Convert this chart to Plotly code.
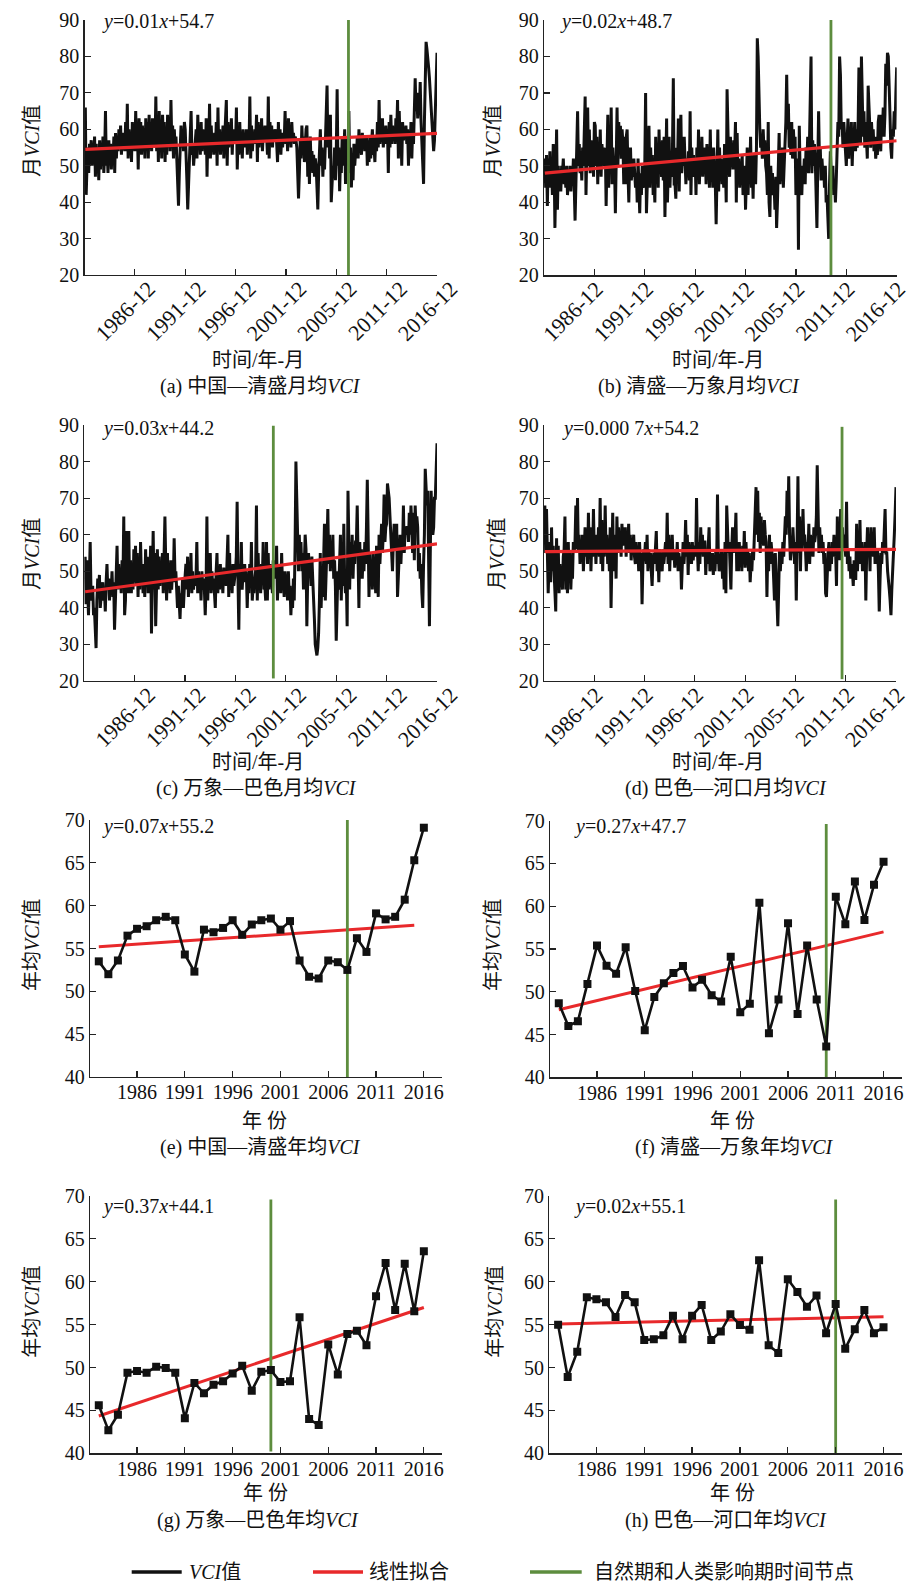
import plotly.graph_objects as go

W, H = 912, 1582
FONT = "Liberation Serif, Times New Roman, Noto Sans CJK SC, serif"
BLACK = "#111111"
RED = "#e8292b"
GREEN = "#5d8d3e"

# ---------------- data ----------------
month_tick_vals = [60, 120, 180, 240, 300, 360, 420]
month_tick_text = ["1986-12", "1991-12", "1996-12", "2001-12", "2005-12", "2011-12", "2016-12"]
year_tick_vals = [1986, 1991, 1996, 2001, 2006, 2011, 2016]
years = list(range(1982, 2017))

# monthly VCI, 1982-01 .. 2016-12 (12 values per line = one year)
vci_month_a = [
    66, 42, 50, 55, 48, 56, 53, 57, 50, 55, 52, 58,
    47, 56, 50, 53, 46, 57, 49, 55, 52, 58, 48, 53,
    65, 50, 54, 48, 57, 51, 56, 49, 55, 52, 58, 48,
    59, 52, 58, 54, 60, 55, 61, 53, 59, 56, 57, 54,
    62, 54, 67, 52, 60, 56, 58, 51, 62, 55, 57, 54,
    65, 56, 60, 49, 63, 55, 62, 53, 61, 56, 59, 52,
    63, 55, 62, 52, 64, 56, 60, 54, 63, 57, 59, 55,
    69, 54, 63, 51, 65, 56, 60, 52, 64, 57, 62, 51,
    60, 53, 64, 55, 62, 54, 68, 56, 61, 52, 60, 55,
    58, 52, 46, 39, 48, 57, 61, 55, 60, 54, 62, 60,
    55, 46, 38, 44, 52, 59, 65, 53, 56, 50, 54, 56,
    60, 52, 64, 55, 59, 53, 62, 54, 60, 56, 58, 53,
    63, 47, 60, 55, 67, 52, 61, 54, 58, 53, 59, 54,
    62, 50, 66, 54, 60, 53, 59, 55, 61, 52, 58, 59,
    68, 50, 62, 55, 61, 56, 63, 53, 60, 57, 59, 56,
    66, 49, 58, 53, 62, 54, 57, 52, 60, 55, 58, 55,
    60, 53, 59, 55, 69, 52, 61, 54, 58, 56, 60, 57,
    64, 51, 62, 55, 60, 56, 63, 54, 59, 57, 61, 58,
    58, 53, 69, 52, 62, 56, 61, 55, 60, 57, 59, 60,
    56, 51, 62, 54, 60, 53, 59, 55, 58, 57, 65, 56,
    60, 54, 63, 56, 61, 55, 62, 57, 59, 56, 58, 57,
    55, 50, 41, 48, 57, 52, 61, 54, 58, 51, 56, 60,
    61, 47, 55, 45, 58, 50, 54, 48, 53, 47, 52, 50,
    44, 38, 48, 56, 60, 50, 55, 47, 53, 49, 58, 60,
    72, 55, 62, 52, 64, 40, 45, 50, 48, 55, 46, 54,
    71, 50, 55, 43, 52, 48, 58, 50, 54, 60, 45, 55,
    58, 50, 65, 48, 55, 44, 52, 46, 56, 50, 54, 52,
    58, 52, 60, 54, 57, 53, 59, 55, 58, 54, 56, 58,
    50, 57, 51, 58, 52, 56, 60, 53, 55, 51, 58, 54,
    62, 55, 68, 56, 60, 57, 63, 55, 59, 56, 61, 57,
    60, 48, 62, 55, 64, 56, 61, 57, 60, 56, 63, 59,
    68, 52, 65, 56, 60, 50, 62, 57, 59, 58, 61, 56,
    60, 50, 58, 55, 62, 52, 60, 56, 64, 74, 65, 70,
    63, 68, 65, 73, 62, 55, 50, 45, 62, 76, 84, 82,
    80, 77, 74, 70, 66, 62, 58, 54, 57, 66, 74, 81,
]

vci_month_b = [
    52, 44, 53, 39, 52, 46, 54, 44, 50, 42, 56, 52,
    33, 45, 60, 38, 50, 44, 49, 43, 50, 48, 52, 45,
    48, 44, 50, 42, 47, 45, 50, 43, 48, 46, 52, 44,
    35, 45, 52, 65, 50, 56, 48, 52, 46, 55, 50, 58,
    69, 42, 58, 66, 50, 60, 48, 57, 50, 55, 47, 62,
    61, 50, 58, 45, 55, 48, 60, 47, 56, 52, 55, 50,
    55, 39, 52, 64, 44, 58, 48, 66, 45, 55, 50, 50,
    37, 60, 66, 50, 62, 55, 61, 52, 60, 56, 45, 58,
    45, 58, 60, 48, 40, 52, 55, 46, 50, 47, 52, 48,
    44, 48, 40, 52, 45, 37, 48, 42, 50, 44, 46, 50,
    70, 37, 45, 52, 61, 44, 55, 48, 53, 42, 46, 40,
    58, 48, 55, 44, 60, 50, 53, 47, 57, 46, 58, 36,
    48, 63, 40, 55, 58, 44, 52, 47, 55, 74, 45, 45,
    41, 55, 50, 63, 43, 58, 64, 48, 55, 50, 58, 51,
    45, 52, 47, 54, 46, 65, 42, 55, 48, 53, 47, 52,
    42, 55, 48, 60, 45, 52, 50, 58, 47, 55, 50, 55,
    45, 56, 48, 52, 44, 60, 46, 50, 44, 55, 50, 45,
    34, 50, 60, 43, 55, 47, 52, 45, 50, 44, 56, 50,
    40, 71, 55, 50, 47, 58, 52, 55, 49, 57, 53, 62,
    40, 59, 45, 52, 44, 50, 47, 53, 42, 48, 50, 38,
    50, 55, 42, 52, 47, 58, 44, 50, 41, 53, 48, 45,
    55, 85, 80, 62, 60, 55, 58, 52, 60, 54, 57, 50,
    48, 42, 62, 40, 36, 50, 44, 48, 42, 45, 38, 47,
    33, 40, 52, 59, 45, 50, 47, 55, 44, 50, 52, 62,
    75, 60, 67, 55, 58, 53, 62, 52, 60, 55, 58, 42,
    45, 52, 27, 61, 48, 45, 42, 50, 47, 52, 45, 55,
    50, 58, 48, 55, 72, 80, 48, 57, 50, 56, 52, 38,
    33, 50, 65, 52, 55, 46, 52, 48, 50, 44, 50, 40,
    42, 36, 30, 45, 54, 48, 44, 50, 42, 46, 40, 46,
    55, 62, 58, 80, 75, 60, 62, 55, 62, 58, 57, 50,
    57, 63, 52, 60, 55, 62, 50, 58, 56, 62, 54, 60,
    55, 60, 77, 62, 56, 80, 70, 58, 65, 55, 62, 56,
    52, 72, 66, 60, 55, 62, 57, 60, 54, 58, 52, 55,
    53, 62, 64, 58, 54, 64, 60, 66, 58, 64, 78, 72,
    81, 80, 74, 64, 55, 52, 60, 58, 65, 60, 70, 77,
]

vci_month_c = [
    54, 41, 53, 45, 38, 48, 58, 44, 42, 46, 38, 40,
    35, 29, 42, 48, 44, 49, 40, 45, 46, 47, 42, 45,
    39, 47, 52, 45, 48, 42, 47, 44, 50, 43, 47, 34,
    44, 50, 57, 45, 52, 46, 48, 44, 53, 47, 65, 38,
    42, 61, 44, 48, 61, 44, 53, 44, 50, 45, 56, 47,
    57, 46, 55, 43, 52, 45, 58, 48, 50, 44, 52, 43,
    56, 46, 54, 44, 52, 48, 57, 33, 50, 61, 45, 55,
    35, 48, 56, 45, 54, 46, 52, 47, 55, 44, 53, 65,
    52, 42, 55, 46, 51, 44, 53, 45, 50, 47, 59, 49,
    50, 44, 40, 46, 42, 37, 44, 42, 48, 40, 45, 50,
    52, 45, 54, 43, 50, 46, 55, 44, 50, 45, 48, 46,
    48, 58, 44, 50, 45, 48, 42, 50, 46, 48, 45, 38,
    46, 65, 42, 52, 46, 55, 44, 50, 45, 48, 43, 40,
    50, 55, 44, 50, 45, 52, 46, 48, 44, 51, 47, 49,
    46, 52, 60, 43, 55, 45, 50, 44, 52, 46, 48, 50,
    54, 69, 48, 34, 52, 46, 58, 45, 50, 47, 52, 47,
    50, 40, 48, 44, 52, 46, 58, 42, 46, 44, 48, 50,
    68, 42, 55, 46, 50, 44, 52, 47, 58, 45, 46, 42,
    58, 42, 55, 45, 52, 47, 50, 44, 53, 48, 51, 50,
    57, 42, 50, 45, 52, 44, 55, 46, 49, 43, 50, 47,
    48, 42, 50, 44, 46, 38, 44, 40, 48, 42, 57, 80,
    70, 62, 50, 60, 52, 58, 50, 55, 45, 52, 60, 56,
    35, 48, 55, 50, 52, 46, 54, 48, 44, 37, 30, 28,
    27, 29, 33, 42, 55, 40, 48, 43, 50, 63, 42, 48,
    57, 67, 52, 60, 50, 57, 52, 60, 48, 53, 46, 31,
    38, 50, 45, 52, 60, 42, 55, 46, 63, 48, 44, 48,
    35, 72, 55, 45, 58, 50, 60, 48, 56, 52, 58, 58,
    68, 55, 40, 58, 50, 56, 48, 55, 50, 58, 52, 62,
    75, 60, 43, 55, 47, 52, 45, 55, 48, 50, 44, 57,
    55, 43, 60, 52, 58, 63, 55, 60, 71, 58, 62, 63,
    74, 72, 70, 65, 60, 55, 50, 58, 63, 56, 60, 63,
    43, 50, 55, 60, 52, 58, 56, 68, 55, 62, 60, 62,
    62, 58, 66, 60, 68, 62, 55, 66, 53, 68, 62, 65,
    62, 50, 55, 48, 52, 44, 40, 52, 60, 78, 70, 68,
    72, 50, 35, 55, 72, 65, 60, 62, 70, 70, 76, 85,
]

vci_month_d = [
    68, 55, 67, 50, 44, 52, 58, 47, 62, 50, 57, 50,
    40, 39, 59, 45, 57, 44, 52, 46, 50, 45, 54, 56,
    65, 45, 50, 44, 58, 47, 55, 45, 52, 48, 58, 55,
    58, 68, 56, 70, 55, 60, 52, 58, 54, 60, 50, 57,
    62, 54, 60, 52, 66, 55, 62, 50, 58, 54, 67, 55,
    58, 52, 60, 55, 62, 54, 70, 52, 64, 50, 60, 54,
    68, 55, 60, 52, 58, 50, 62, 40, 52, 66, 50, 58,
    60, 48, 65, 55, 62, 56, 60, 54, 63, 57, 62, 59,
    62, 54, 60, 56, 63, 55, 60, 53, 58, 56, 60, 54,
    52, 58, 54, 56, 50, 58, 53, 55, 41, 52, 56, 54,
    58, 52, 60, 50, 56, 52, 55, 50, 46, 53, 55, 52,
    56, 61, 50, 55, 47, 56, 52, 54, 50, 56, 52, 56,
    58, 54, 66, 52, 60, 50, 58, 55, 60, 53, 56, 51,
    56, 52, 58, 50, 55, 52, 54, 45, 52, 58, 52, 56,
    64, 54, 60, 49, 58, 55, 57, 52, 58, 53, 56, 57,
    54, 70, 56, 50, 58, 52, 62, 55, 60, 54, 58, 58,
    49, 55, 52, 58, 62, 50, 54, 52, 55, 49, 53, 50,
    56, 52, 71, 55, 50, 54, 52, 56, 48, 53, 45, 58,
    44, 68, 60, 55, 58, 52, 45, 56, 62, 55, 60, 59,
    66, 50, 56, 50, 58, 52, 55, 50, 57, 53, 61, 51,
    58, 52, 56, 50, 55, 47, 52, 50, 56, 53, 61, 63,
    73, 60, 72, 58, 66, 55, 65, 58, 62, 57, 64, 60,
    58, 43, 56, 50, 60, 52, 58, 55, 54, 48, 42, 55,
    48, 40, 35, 45, 56, 50, 55, 52, 58, 54, 62, 65,
    60, 72, 62, 76, 60, 53, 56, 55, 62, 58, 52, 58,
    42, 58, 76, 55, 65, 50, 62, 56, 67, 58, 60, 56,
    50, 58, 55, 63, 52, 60, 55, 58, 54, 62, 58, 60,
    65, 79, 60, 55, 62, 56, 60, 55, 58, 52, 55, 44,
    43, 52, 55, 58, 50, 56, 52, 58, 55, 60, 54, 55,
    46, 65, 56, 60, 53, 67, 55, 62, 56, 60, 55, 54,
    69, 52, 56, 50, 54, 48, 52, 50, 46, 53, 48, 48,
    63, 50, 56, 52, 64, 52, 58, 50, 56, 52, 58, 42,
    55, 62, 54, 58, 50, 62, 56, 60, 54, 62, 52, 55,
    52, 56, 50, 39, 48, 55, 52, 58, 55, 62, 67, 55,
    55, 50, 48, 45, 42, 38, 45, 52, 58, 60, 66, 73,
]

# annual VCI, 1982 .. 2016
vci_year_e = [53.5, 52.0, 53.6, 56.5, 57.3, 57.6, 58.3, 58.7, 58.3, 54.3,
              52.3, 57.2, 56.9, 57.4, 58.3, 56.6, 57.8, 58.3, 58.5, 57.2,
              58.2, 53.6, 51.7, 51.5, 53.6, 53.4, 52.5, 56.2, 54.6, 59.1,
              58.4, 58.7, 60.7, 65.3, 69.1]
vci_year_f = [48.65, 46.0, 46.55, 50.9, 55.4, 53.05, 52.1, 55.2, 50.1, 45.5,
              49.4, 51.0, 52.2, 53.0, 50.5, 51.4, 49.6, 48.85, 54.1, 47.6,
              48.6, 60.4, 45.15, 49.1, 58.0, 47.4, 55.4, 49.1, 43.6, 61.1,
              57.9, 62.9, 58.4, 62.5, 65.2]
vci_year_g = [45.6, 42.7, 44.5, 49.4, 49.6, 49.4, 50.1, 49.95, 49.4, 44.1,
              48.2, 47.0, 48.0, 48.4, 49.3, 50.2, 47.3, 49.5, 49.7, 48.3,
              48.4, 55.85, 44.0, 43.3, 52.7, 49.2, 53.9, 54.3, 52.6, 58.3,
              62.2, 56.7, 62.1, 56.55, 63.55]
vci_year_h = [55.0, 48.9, 51.85, 58.2, 57.95, 57.6, 55.9, 58.45, 57.6, 53.2,
              53.3, 53.75, 56.05, 53.3, 56.05, 57.3, 53.2, 54.2, 56.2, 54.95,
              54.4, 62.5, 52.6, 51.7, 60.3, 58.8, 57.1, 58.4, 54.0, 57.4,
              52.2, 54.45, 56.7, 54.0, 54.7]

# linear-fit end points (as drawn) and break points (green line)
trend_month_start = [54.5, 48.0, 44.4, 55.4]
trend_month_end = [58.9, 56.9, 57.5, 56.0]
trend_year_x = [[1982, 2015], [1982, 2016], [1982, 2016], [1982, 2016]]
trend_year_start = [55.2, 47.9, 44.35, 55.08]
trend_year_end = [57.7, 57.0, 57.0, 55.93]
break_month = [314.5, 341.7, 225.1, 355.6]
break_year = [2008, 2010, 2000, 2011]

equations = ["<i>y</i>=0.01<i>x</i>+54.7", "<i>y</i>=0.02<i>x</i>+48.7",
             "<i>y</i>=0.03<i>x</i>+44.2", "<i>y</i>=0.000 7<i>x</i>+54.2",
             "<i>y</i>=0.07<i>x</i>+55.2", "<i>y</i>=0.27<i>x</i>+47.7",
             "<i>y</i>=0.37<i>x</i>+44.1", "<i>y</i>=0.02<i>x</i>+55.1"]
captions = ["(a) 中国—清盛月均<i>VCI</i>", "(b) 清盛—万象月均<i>VCI</i>",
            "(c) 万象—巴色月均<i>VCI</i>", "(d) 巴色—河口月均<i>VCI</i>",
            "(e) 中国—清盛年均<i>VCI</i>", "(f) 清盛—万象年均<i>VCI</i>",
            "(g) 万象—巴色年均<i>VCI</i>", "(h) 巴色—河口年均<i>VCI</i>"]
legend_names = ["<i>VCI</i>值", "线性拟合", "自然期和人类影响期时间节点"]

# ---------------- layout geometry (pixels) ----------------
# plot box: left, right, top, bottom
boxes = [
    (84.5, 437.0, 20.0, 275.0), (544.0, 896.7, 20.0, 275.3),
    (84.3, 437.0, 425.0, 681.0), (544.0, 896.0, 425.0, 681.0),
    (90.0, 442.0, 820.0, 1077.0), (550.0, 901.7, 820.7, 1077.3),
    (90.0, 442.0, 1196.0, 1453.3), (549.3, 901.7, 1196.0, 1453.3),
]
month_label_shift = [14, 2, 14, 2]
eq_pos = [(100, 21.7), (558.3, 21.7), (100, 428.3), (560, 428.3),
          (100, 826), (571.7, 826.7), (100, 1206), (571.7, 1206)]
ytitle_pos = [(32, 141), (493, 141), (32, 554), (497, 554),
              (32, 945), (493, 945), (32, 1311.7), (495, 1311.7)]
xtitle_pos = [(257.5, 360), (717.5, 360), (257.5, 761.7), (717.5, 761.7),
              (264.5, 1120.7), (732, 1120.7), (265, 1493.3), (732, 1493.3)]
caption_pos = [(260, 386.7), (699, 386.7), (256, 788), (726, 788),
               (260, 1147.7), (734, 1147.7), (258, 1520), (726, 1520)]
green_y = [(20, 90), (20, 90), (20.7, 89.8), (20.5, 89.5),
           (40, 70), (40, 69.6), (40.2, 69.6), (40, 69.6)]


def fx(x):
    return x / W


def fy(y):
    return 1 - y / H


fig = go.Figure()
monthly = [vci_month_a, vci_month_b, vci_month_c, vci_month_d]
annual = [vci_year_e, vci_year_f, vci_year_g, vci_year_h]
month_x = list(range(1, 421))

annotations = []
layout_axes = {}
for i in range(8):
    n = i + 1
    xa = "x" if n == 1 else f"x{n}"
    ya = "y" if n == 1 else f"y{n}"
    l, r, t, b = boxes[i]
    is_month = i < 4
    common = dict(showline=True, linecolor="#222222", linewidth=1.3, ticks="inside",
                  ticklen=6, tickwidth=1.2, tickcolor="#222222", showgrid=False,
                  zeroline=False, automargin=False, ticklabeloverflow="allow",
                  tickfont=dict(family=FONT, size=20, color="#111111"))
    if is_month:
        k = i
        fig.add_trace(go.Scatter(x=month_x, y=monthly[k], mode="lines",
                                 line=dict(color=BLACK, width=3.0),
                                 xaxis=xa, yaxis=ya, showlegend=False))
        fig.add_trace(go.Scatter(x=[1, 420], y=[trend_month_start[k], trend_month_end[k]],
                                 mode="lines", line=dict(color=RED, width=3.2),
                                 xaxis=xa, yaxis=ya, showlegend=False))
        fig.add_trace(go.Scatter(x=[break_month[k], break_month[k]], y=list(green_y[i]),
                                 mode="lines", line=dict(color=GREEN, width=2.8),
                                 xaxis=xa, yaxis=ya, showlegend=False))
        xcfg = dict(range=[0, 420], tickmode="array", tickvals=month_tick_vals,
                    ticktext=month_tick_text, tickangle=-45,
                    ticklabelstandoff=-9, ticklabelshift=month_label_shift[k])
        ycfg = dict(range=[20, 90], tickmode="array", tickvals=list(range(20, 91, 10)))
        xcommon = dict(common)
        xcommon["tickfont"] = dict(family=FONT, size=22, color="#111111")
    else:
        k = i - 4
        fig.add_trace(go.Scatter(x=trend_year_x[k], y=[trend_year_start[k], trend_year_end[k]],
                                 mode="lines", line=dict(color=RED, width=3.0),
                                 xaxis=xa, yaxis=ya, showlegend=False))
        fig.add_trace(go.Scatter(x=[break_year[k], break_year[k]], y=list(green_y[i]),
                                 mode="lines", line=dict(color=GREEN, width=2.8),
                                 xaxis=xa, yaxis=ya, showlegend=False))
        fig.add_trace(go.Scatter(x=years, y=annual[k], mode="lines+markers",
                                 line=dict(color=BLACK, width=2.6),
                                 marker=dict(symbol="square", size=8, color=BLACK),
                                 xaxis=xa, yaxis=ya, showlegend=False))
        xcfg = dict(range=[1981.08, 2017.9], tickmode="array", tickvals=year_tick_vals,
                    ticktext=[str(v) for v in year_tick_vals], tickangle=0,
                    ticklabelstandoff=-3)
        ycfg = dict(range=[40, 70], tickmode="array", tickvals=list(range(40, 71, 5)))
        xcommon = dict(common)

    xkey = "xaxis" if n == 1 else f"xaxis{n}"
    ykey = "yaxis" if n == 1 else f"yaxis{n}"
    layout_axes[xkey] = dict(domain=[fx(l), fx(r)], anchor=ya, **xcfg, **xcommon)
    layout_axes[ykey] = dict(domain=[fy(b), fy(t)], anchor=xa, **ycfg, **common)

    ex, ey = eq_pos[i]
    annotations.append(dict(x=fx(ex), y=fy(ey), xref="paper", yref="paper",
                            text=equations[i], showarrow=False, xanchor="left",
                            yanchor="middle", font=dict(family=FONT, size=20, color="#111")))
    tx, ty = ytitle_pos[i]
    annotations.append(dict(x=fx(tx), y=fy(ty), xref="paper", yref="paper",
                            text=("月<i>VCI</i>值" if is_month else "年均<i>VCI</i>值"),
                            textangle=-90, showarrow=False, xanchor="center",
                            yanchor="middle", font=dict(family=FONT, size=20, color="#111")))
    tx, ty = xtitle_pos[i]
    annotations.append(dict(x=fx(tx), y=fy(ty), xref="paper", yref="paper",
                            text=("时间/年-月" if is_month else "年 份"),
                            showarrow=False, xanchor="center", yanchor="middle",
                            font=dict(family=FONT, size=20, color="#111")))
    cx, cy = caption_pos[i]
    annotations.append(dict(x=fx(cx), y=fy(cy), xref="paper", yref="paper",
                            text=captions[i], showarrow=False, xanchor="center",
                            yanchor="middle", font=dict(family=FONT, size=20, color="#111")))

# legend (drawn at the bottom)
legend_y = 1572
legend_items = [((131.7, 181.7), 186.7, BLACK), ((313, 363), 366.7, RED),
                ((530, 581.7), 591.7, GREEN)]
shapes = []
for (x0, x1), tx, col in legend_items:
    shapes.append(dict(type="line", xref="paper", yref="paper", x0=fx(x0), x1=fx(x1),
                       y0=fy(legend_y), y1=fy(legend_y), line=dict(color=col, width=3.5)))
for name, ((x0, x1), tx, col) in zip(legend_names, legend_items):
    annotations.append(dict(x=fx(tx), y=fy(legend_y), xref="paper", yref="paper",
                            text=name, showarrow=False, xanchor="left", yanchor="middle",
                            font=dict(family=FONT, size=20, color="#111")))

fig.update_layout(width=W, height=H,
                  margin=dict(l=0, r=0, t=0, b=0, pad=0, autoexpand=False),
                  paper_bgcolor="white", plot_bgcolor="white",
                  annotations=annotations, shapes=shapes, showlegend=False,
                  **layout_axes)

fig.write_html(
    "out.html",
    config={"displayModeBar": False, "staticPlot": True},
    post_script=("document.documentElement.style.margin='0';"
                 "document.body.style.margin='0';"
                 "document.body.style.padding='0';"
                 "document.body.style.overflow='hidden';"),
)
